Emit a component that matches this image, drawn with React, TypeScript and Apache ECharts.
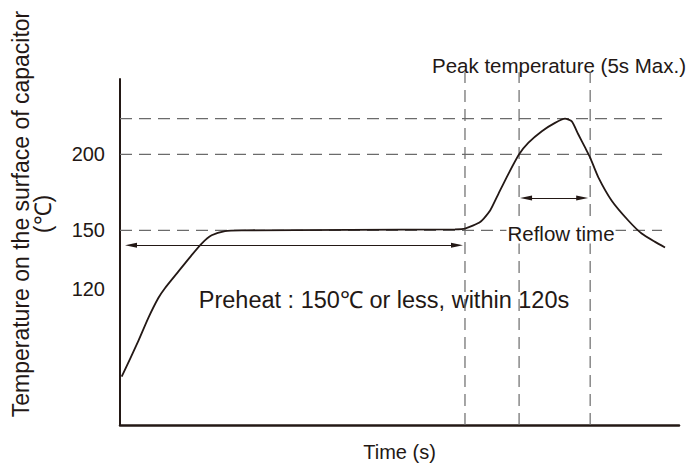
import React, { useEffect, useRef } from "react";
import * as echarts from "echarts";

// Reflow profile (schematic), time in arbitrary seconds, temperature in °C
const curveTime = [
  0.85, 9.2, 14.2, 19.2, 22.5, 29.2, 35.9, 40.9, 45.9, 52.6, 61, 115, 167.8, 172.8,
  180.4, 185.4, 189.5, 194.5, 199.9, 204.6, 211.3, 217.9, 222.9, 226.3, 229.6, 233,
  235.5, 239.6, 246.3, 254.6, 261.3, 268, 273,
];
const curveTemp = [
  86.2, 98.7, 107.7, 116.1, 120.5, 128.3, 136.6, 142.7, 147.2, 149.6, 150, 150.3, 150.6, 151,
  154.8, 161.7, 172.1, 185.6, 200, 209, 218.3, 225.3, 228.9, 226.6, 215.6, 205.1,
  197.5, 183.3, 167.8, 155.7, 148.2, 143.6, 140.6,
];

const yTickLabels = [120, 150, 200];
const timeRange = [0, 280];
const tempRange = [71.8, 266];

const refTemps = [150, 200, 229];
const refTimes = [172.8, 199.9, 235.5];
const refLineEndTime = 271.5;
const refLineTopTemp = 273;

const preheatArrowTimes = [5.5, 168.8];
const preheatArrowTemp = 141.8;
const reflowArrowTimes = [203.4, 231.5];
const reflowArrowTemp = 169.6;

const FONT = '"Liberation Sans", Arial, Helvetica, sans-serif';
const INK = "#231815";
const DASH = "#6b6b6b";

export default function App() {
  const ref = useRef<HTMLDivElement>(null);

  useEffect(() => {
    if (!ref.current) return;
    const chart = echarts.init(ref.current, null, { renderer: "svg" });

    const dashStyle = { color: DASH, width: 1.2, type: [12, 7] as any };

    const series: any[] = [];
    refTemps.forEach((v) => {
      series.push({
        type: "line",
        data: [[timeRange[0], v], [refLineEndTime, v]],
        symbol: "none",
        lineStyle: dashStyle,
        clip: false,
        silent: true,
        z: 2,
      });
    });
    refTimes.forEach((t) => {
      series.push({
        type: "line",
        data: [[t, tempRange[0]], [t, refLineTopTemp]],
        symbol: "none",
        lineStyle: dashStyle,
        clip: false,
        silent: true,
        z: 2,
      });
    });
    series.push({
      type: "line",
      data: curveTime.map((t, i) => [t, curveTemp[i]]),
      smooth: 0.2,
      symbol: "none",
      lineStyle: { color: INK, width: 1.8 },
      clip: false,
      silent: true,
      z: 5,
      markLine: {
        silent: true,
        symbol: ["triangle", "triangle"],
        symbolSize: [5, 12],
        label: { show: false },
        emphasis: { disabled: true },
        lineStyle: { color: INK, width: 1.2, type: "solid" },
        itemStyle: { color: INK },
        data: [
          [
            { coord: [preheatArrowTimes[0], preheatArrowTemp] },
            { coord: [preheatArrowTimes[1], preheatArrowTemp] },
          ],
          [
            { coord: [reflowArrowTimes[0], reflowArrowTemp] },
            { coord: [reflowArrowTimes[1], reflowArrowTemp] },
          ],
        ],
      },
    });

    const textStyle = (text: string, size: number, extra: any = {}) => ({
      text,
      fontSize: size,
      fontFamily: FONT,
      fill: INK,
      align: "center",
      verticalAlign: "middle",
      ...extra,
    });

    chart.setOption({
      animation: false,
      grid: { left: 120, top: 79, width: 559, height: 349 },
      xAxis: {
        type: "value",
        min: timeRange[0],
        max: timeRange[1],
        name: "Time (s)",
        nameLocation: "middle",
        nameGap: 17,
        nameTextStyle: { fontSize: 20, color: INK, fontFamily: FONT },
        axisLine: { show: true, onZero: false, lineStyle: { color: INK, width: 2.5 } },
        axisTick: { show: false },
        axisLabel: { show: false },
        splitLine: { show: false },
      },
      yAxis: {
        type: "log",
        logBase: 10,
        min: tempRange[0],
        max: tempRange[1],
        axisLine: { show: true, lineStyle: { color: INK, width: 2 } },
        axisTick: { show: false },
        splitLine: { show: false },
        axisLabel: {
          customValues: yTickLabels,
          fontSize: 20,
          color: INK,
          fontFamily: FONT,
          margin: 15,
        },
      },
      graphic: [
        {
          type: "text",
          x: 32,
          y: 214,
          rotation: Math.PI / 2,
          silent: true,
          style: textStyle("Temperature on the surface of capacitor\n(℃)", 23, { lineHeight: 22 }),
        },
        {
          type: "text",
          x: 559,
          y: 65,
          silent: true,
          style: textStyle("Peak temperature (5s Max.)", 20.5),
        },
        {
          type: "text",
          x: 384,
          y: 300,
          silent: true,
          style: textStyle("Preheat : 150℃ or less, within 120s", 23.5),
        },
        {
          type: "text",
          x: 561,
          y: 233,
          silent: true,
          z: 100,
          style: textStyle("Reflow time", 20.5, { backgroundColor: "#fff", padding: [0, 1] }),
        },
      ],
      series,
    });

    return () => chart.dispose();
  }, []);

  return (
    <div
      ref={ref}
      style={{ position: "fixed", left: 0, top: 0, width: 688, height: 467, background: "#fff" }}
    />
  );
}
